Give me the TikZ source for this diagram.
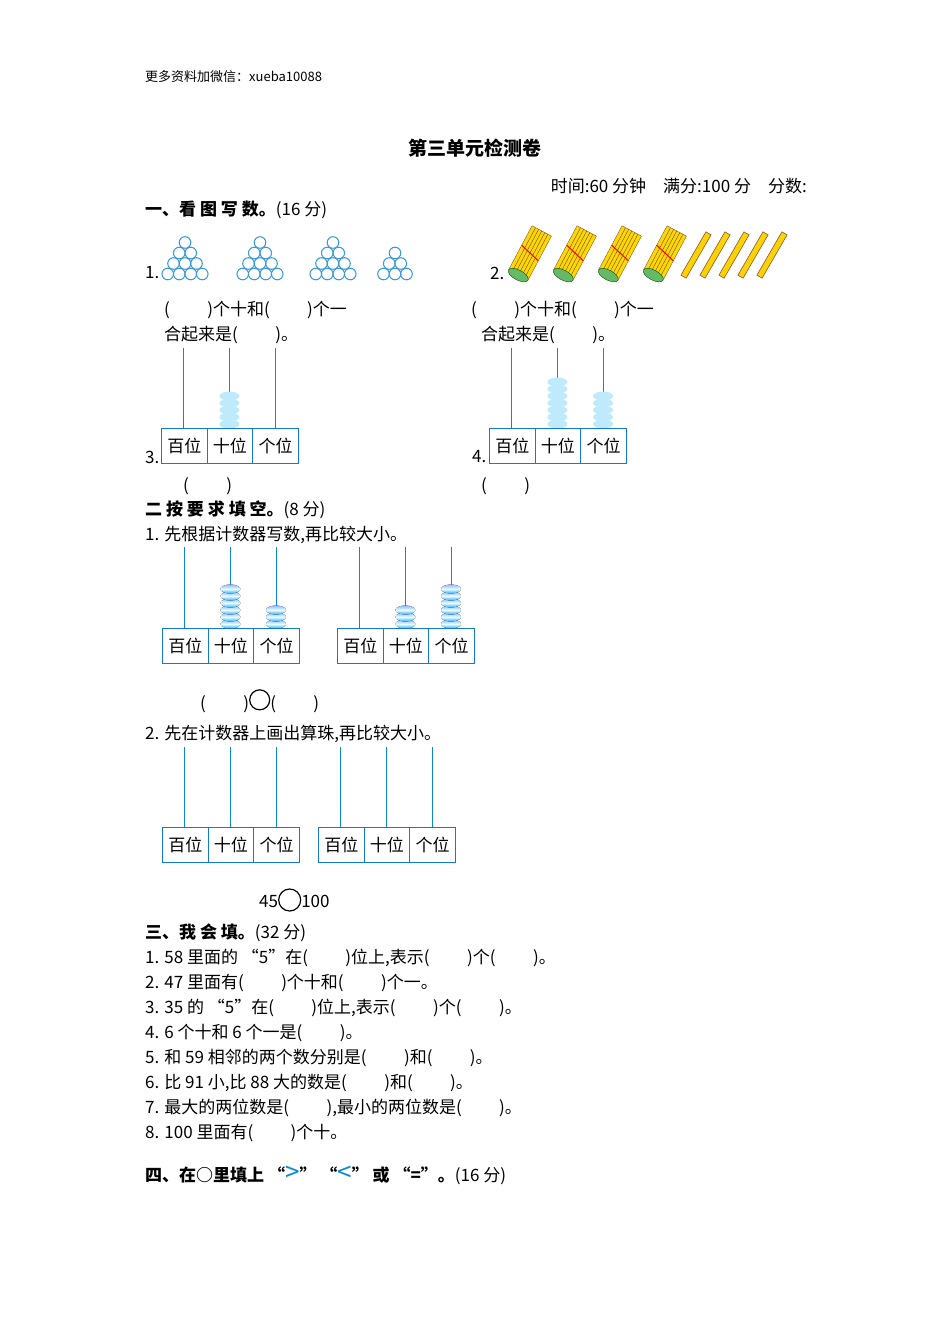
\documentclass[tikz,border=0pt]{standalone}
\usepackage{fontspec}
\setmainfont{Noto Sans CJK SC}
\begin{document}
\begin{tikzpicture}[x=1pt,y=-1pt,
 t/.style={anchor=west,inner sep=0,font=\fontsize{17}{19}\selectfont},
 hd/.style={t,font=\fontsize{17}{19}\selectfont\bfseries},
 rod/.style={draw=cyan!70!blue,line width=1pt},
 cell/.style={draw=cyan!60!blue,line width=1pt,fill=white,minimum width=45.6,minimum height=35,inner sep=0,font=\fontsize{17}{19}\selectfont},
 bbead/.style={top color=cyan!30!blue!40,bottom color=cyan!60!blue!80,middle color=cyan!10,draw=none},
 ring/.style={draw=cyan!70!blue!80,line width=1pt}]
\useasboundingbox (0,0) rectangle (950,1344);
\newcommand{\abacus}[5]{%
 \foreach \i in {0,1,2}{\draw[rod] (#1+22.8+45.6*\i,#3) -- (#1+22.8+45.6*\i,#2);}
 \ifnum#4>0 \foreach \k in {1,...,#4}{\fill[bstyle] (#1+68.4,#2-4-7*\k+7) ellipse (10 and 4.5);}\fi
 \ifnum#5>0 \foreach \k in {1,...,#5}{\fill[bstyle] (#1+114,#2-4-7*\k+7) ellipse (10 and 4.5);}\fi
 \node[cell,anchor=north west] at (#1,#2) {百位};
 \node[cell,anchor=north west] at (#1+45.6,#2) {十位};
 \node[cell,anchor=north west] at (#1+91.2,#2) {个位};
}
\newcommand{\gap}{\hspace*{2.2em}}
\node[t,font=\fontsize{13}{15}\selectfont] (h) at (145,77) {更多资料加微信：xueba10088};
\node[font=\fontsize{19}{21}\selectfont\bfseries] (title) at (475,148) {第三单元检测卷};
\node[t,anchor=east] (time) at (807,186) {时间:60 分钟\quad 满分:100 分\quad 分数:};
\node[hd] (s1) at (145,210) {一、看 图 写 数。\mdseries(16 分)};
\node[t] (n1) at (145,273) {1.};
\node[t] (n2) at (490,273) {2.};
\foreach \cx/\rows in {185/4,260/4,333/4,395/3}{
 \foreach \r in {1,...,\rows}{
  \pgfmathtruncatemacro\m{\r}
  \foreach \c in {1,...,\m}{
   \draw[ring] (\cx+11.5*\c-5.75*\r-5.75, 274-10.5*\rows+10.5*\r) circle (5.8);
  }}}
\foreach \bx in {530,575,620,665}{
 \begin{scope}[shift={(\bx,253)},rotate=-28]
  \fill[yellow!75!orange,draw=brown!70!black] (-11,-25) rectangle (11,25);
  \foreach \s in {-7,-3.5,0,3.5,7} \draw[brown!60!black,line width=.4pt] (\s,-25) -- (\s,25);
  \draw[red,line width=1pt] (-11,-3) -- (11,3);
  \fill[green!55!black!60,draw=green!30!black] (0,25) ellipse (11 and 5);
 \end{scope}}
\foreach \sx in {688,707,726,745,764}{
 \draw[brown!70!black,fill=yellow!70!orange,line width=.6pt,rotate around={-30:(\sx+8,255)}] (\sx+5,230) rectangle (\sx+11,280);
}
\node[t] (a1) at (164,310) {(\gap)个十和(\gap)个一};
\node[t] (a2) at (164,335) {合起来是(\gap)。};
\node[t] (b1) at (471,310) {(\gap)个十和(\gap)个一};
\node[t] (b2) at (481,335) {合起来是(\gap)。};
\tikzset{bstyle/.style={fill=cyan!25}}
\abacus{161}{428}{348}{5}{0}
\abacus{489}{428}{348}{7}{5}
\node[t] (n3) at (145,457) {3.};
\node[t] (n4) at (472,457) {4.};
\node[t] (p3) at (183,486) {(\gap)};
\node[t] (p4) at (481,486) {(\gap)};
\node[hd] (s2) at (145,510) {二 按 要 求 填 空。\mdseries(8 分)};
\node[t] (q1) at (145,535) {1. 先根据计数器写数,再比较大小。};
\tikzset{bstyle/.style={bbead}}
\abacus{162}{628}{547}{6}{3}
\abacus{337}{628}{547}{3}{6}
\node[t] (c1) at (200,701) {(\gap)\raisebox{-1pt}{\tikz\draw[line width=1.2pt](0,0) circle (10pt);}(\gap)};
\node[t] (q2) at (145,734) {2. 先在计数器上画出算珠,再比较大小。};
\abacus{162}{827}{747}{0}{0}
\abacus{318}{827}{747}{0}{0}
\node[t] (c2) at (259,900) {45\raisebox{-4pt}{\tikz\draw[line width=1.2pt](0,0) circle (11pt);}100};
\node[hd] (s3) at (145,933) {三、我 会 填。\mdseries(32 分)};
\node[t] (l1) at (145,958) {1. 58 里面的 “5”在(\gap)位上,表示(\gap)个(\gap)。};
\node[t] (l2) at (145,983) {2. 47 里面有(\gap)个十和(\gap)个一。};
\node[t] (l3) at (145,1008) {3. 35 的 “5”在(\gap)位上,表示(\gap)个(\gap)。};
\node[t] (l4) at (145,1033) {4. 6 个十和 6 个一是(\gap)。};
\node[t] (l5) at (145,1058) {5. 和 59 相邻的两个数分别是(\gap)和(\gap)。};
\node[t] (l6) at (145,1083) {6. 比 91 小,比 88 大的数是(\gap)和(\gap)。};
\node[t] (l7) at (145,1108) {7. 最大的两位数是(\gap),最小的两位数是(\gap)。};
\node[t] (l8) at (145,1133) {8. 100 里面有(\gap)个十。};
\node[hd] (s4) at (145,1175) {四、在○里填上 “{\color{cyan!70!blue}\fontsize{26}{26}\selectfont\mdseries >}” “{\color{cyan!70!blue}\fontsize{26}{26}\selectfont\mdseries <}” 或 “=”。\mdseries(16 分)};
\end{tikzpicture}
\end{document}
